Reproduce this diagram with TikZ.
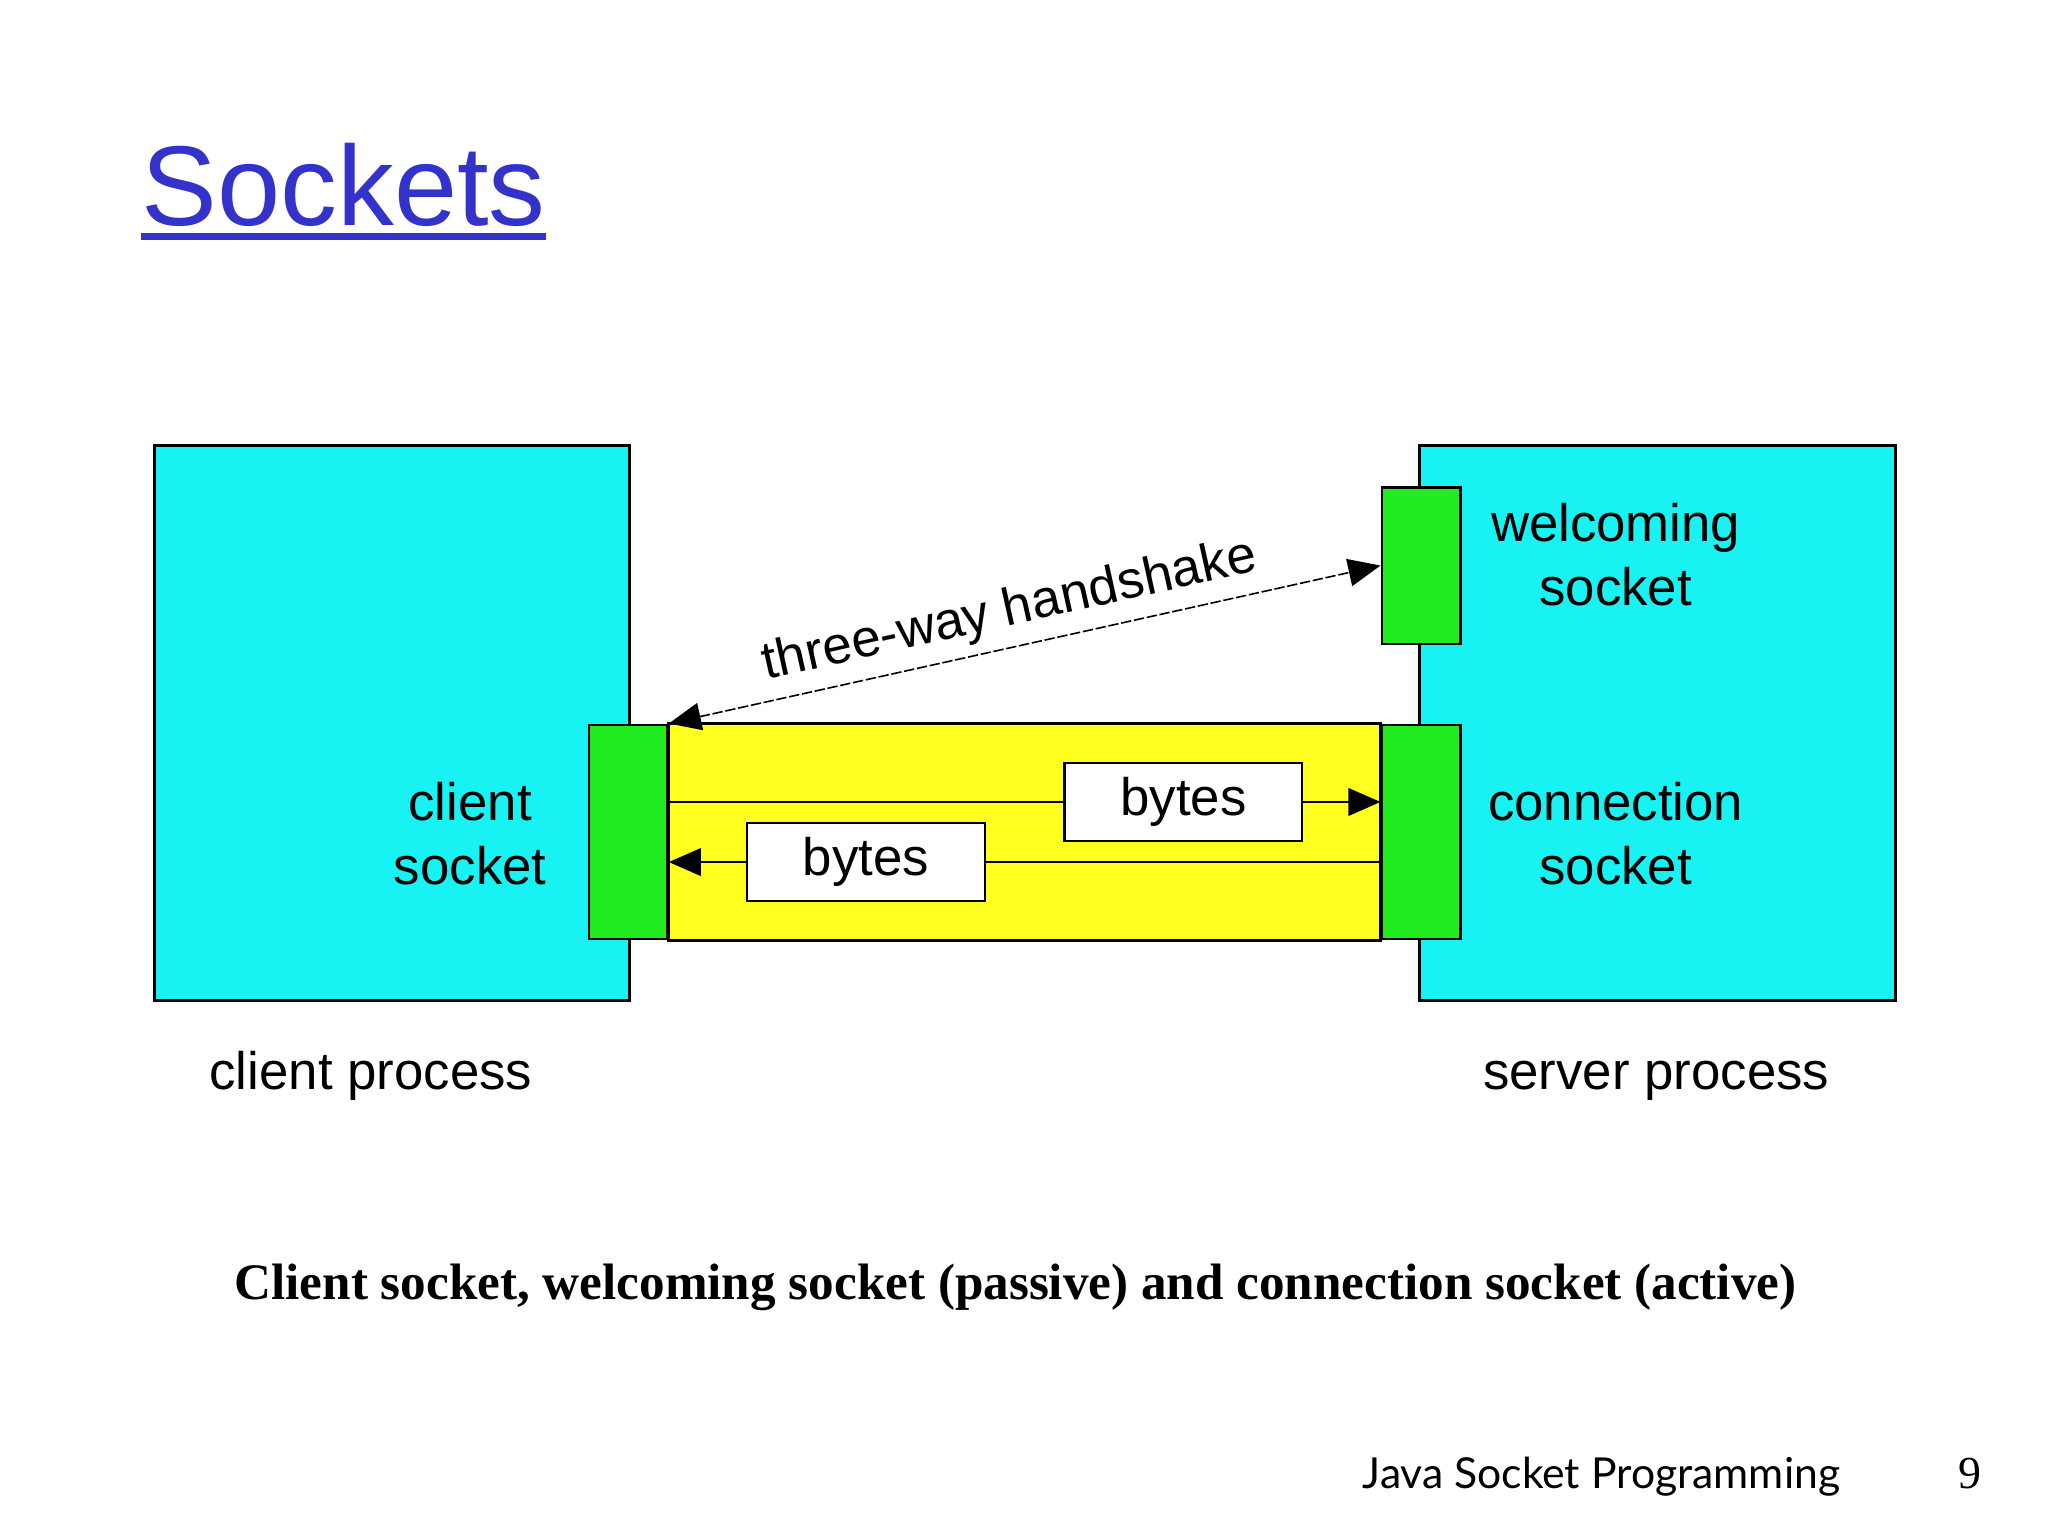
\documentclass[tikz,border=0pt]{standalone}
\usepackage{fontspec}
\setmainfont{Liberation Sans}
\newfontfamily\capfont{Liberation Serif}
\newfontfamily\footfont{Lato}
\usetikzlibrary{positioning,arrows.meta}

\definecolor{procCyan}{RGB}{24,242,242}
\definecolor{sockGreen}{RGB}{32,236,32}
\definecolor{pipeYellow}{RGB}{255,255,32}
\definecolor{titleBlue}{RGB}{51,51,204}
\newcommand{\sockfont}{\fontsize{23}{27.9}\selectfont}

\begin{document}
\begin{tikzpicture}[x=0.02cm, y=-0.02cm,
			% big cyan box of a process
			processbox/.style={rectangle, draw=black, fill=procCyan, line width=1.2pt, minimum width=7.28cm, minimum height=8.5cm, inner sep=0pt},
			% green socket on the edge of a process
			socketbox/.style={rectangle, draw=black, fill=sockGreen, line width=1.2pt, minimum width=1.2cm, inner sep=0pt},
			% white box with the bytes
			bytesbox/.style={rectangle, draw=black, fill=white, line width=1pt, minimum width=3.64cm, minimum height=1.2cm, inner sep=0pt, font=\sockfont},
			% plain text
			plain/.style={font=\sockfont, align=center, inner sep=0pt},
			% arrow inside the pipe
			flow/.style={line width=1pt, -{Triangle[length=14pt, width=12pt]}}
		]
		\useasboundingbox (0,0) rectangle (1568,1176);

		%Title
		\node[font=\fontsize{49.5}{58}\selectfont, text=titleBlue, anchor=base west, inner sep=0pt] (title) at (108,173) {Sockets};
		\draw[titleBlue, line width=3pt] ([yshift=-4.6pt]title.base west) -- ([yshift=-4.6pt]title.base east);

		%Processes
		\node[processbox]                       (client)    at (300,553.5)  {};
		\node[processbox]                       (server)    at (1269,553.5) {};

		%Sockets
		\node[socketbox, minimum height=2.4cm]  (wsock)     at (1088,433)   {};
		\node[socketbox, minimum height=3.28cm] (csock)     at (481,637)    {};
		\node[socketbox, minimum height=3.28cm] (consock)   at (1088,637)   {};
		% the pipe between the two sockets
		\draw[fill=pipeYellow, line width=1.2pt] (csock.north east) rectangle (consock.south west);

		%Bytes
		\node[bytesbox]                         (bytesout)  at (906,614)    {bytes};
		\node[bytesbox]                         (bytesin)   at (663,660)    {bytes};

		%Labels
		\node[plain]                            (clientlbl) at (360,638)    {client\\socket};
		\node[plain]                            (wlbl)      at (1237,425)   {welcoming\\socket};
		\node[plain]                            (conlbl)    at (1237,638)   {connection\\socket};
		\node[plain, anchor=base]               (cproc)     at (284,834)    {client process};
		\node[plain, anchor=base]               (sproc)     at (1268,834)   {server process};

		%Lines
		\draw[line width=1pt] (csock.east |- bytesout.west)   --  (bytesout.west);
		\draw[flow]           (bytesout.east)                 --  (consock.west |- bytesout.east);
		\draw[line width=1pt] (consock.west |- bytesin.east)  --  (bytesin.east);
		\draw[flow]           (bytesin.west)                  --  (csock.east |- bytesin.west);
		% handshake goes both ways
		\draw[line width=0.7pt, dash pattern=on 4.5pt off 1.2pt, {Triangle[length=14pt, width=12pt]}-{Triangle[length=14pt, width=12pt]}]
			(csock.north east) -- (wsock.west)
			node[pos=0.49, sloped, above=1pt, font=\sockfont] (hslbl) {three-way handshake};

		%Caption and footer
		\node[anchor=base, inner sep=0pt, font=\capfont\bfseries\fontsize{22.3}{27}\selectfont] (caption) at (777.5,995)
			{Client socket, welcoming socket (passive) and connection socket (active)};
		\node[anchor=base west, inner sep=0pt, font=\footfont\fontsize{18.6}{22}\selectfont] (footer) at (1043,1140) {Java Socket Programming};
		\node[anchor=base, inner sep=0pt, font=\capfont\fontsize{20}{24}\selectfont] (pagenum) at (1508,1140) {9};
	\end{tikzpicture}
\end{document}
